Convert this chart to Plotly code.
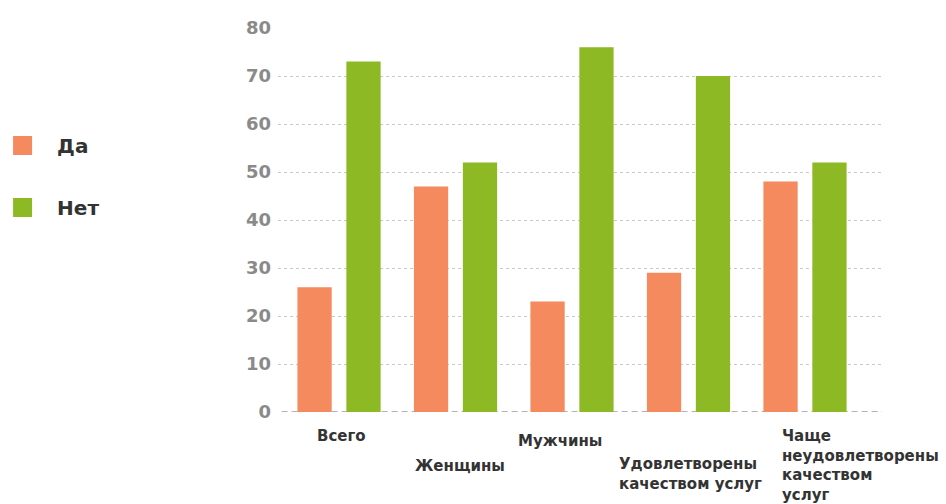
import plotly.graph_objects as go

categories = ["Всего", "Женщины", "Мужчины", "Удовлетворены качеством услуг",
              "Чаще неудовлетворены качеством услуг"]
da_values = [26, 47, 23, 29, 48]
net_values = [73, 52, 76, 70, 52]
series_names = ["Да", "Нет"]
tick_vals = [0, 10, 20, 30, 40, 50, 60, 70, 80]

# label text (as printed under the axis) and placement styling
label_texts = ["Всего", "Женщины", "Мужчины", "Удовлетворены<br>качеством услуг",
               "Чаще<br>неудовлетворены<br>качеством<br>услуг"]
label_yshift = [-25, -55, -30, -53, -25]
label_xshift = [2, 4, -12, 2, -25]
label_xanchor = ["center", "center", "center", "center", "left"]
label_align = ["center", "center", "center", "left", "left"]

ORANGE = "#F48A5E"
GREEN = "#8DB924"

fig = go.Figure()
fig.add_trace(go.Bar(x=categories, y=da_values, name=series_names[0],
                     marker=dict(color=ORANGE, line=dict(width=0)), showlegend=False))
fig.add_trace(go.Bar(x=categories, y=net_values, name=series_names[1],
                     marker=dict(color=GREEN, line=dict(width=0)), showlegend=False))
# legend entries (larger square swatches)
for nm, col in zip(series_names, [ORANGE, GREEN]):
    fig.add_trace(go.Scatter(x=[None], y=[None], mode="markers", name=nm,
                             legendgroup=nm,
                             marker=dict(symbol="square", size=16, color=col,
                                         line=dict(color=col, width=3))))

for i, cat in enumerate(categories):
    fig.add_annotation(x=cat, y=0, xref="x", yref="y", text=label_texts[i],
                       showarrow=False, yanchor="top", xanchor=label_xanchor[i],
                       align=label_align[i], yshift=label_yshift[i] + 12,
                       xshift=label_xshift[i],
                       font=dict(family="DejaVu Sans", size=15, color="#333333",
                                 weight="bold"))

# dashed baseline at zero
fig.add_shape(type="line", xref="paper", yref="y", x0=0.006, x1=1, y0=0, y1=0,
              line=dict(color="#9a9a9a", width=1.5, dash="6px,4px"), layer="below")

fig.update_layout(
    width=946, height=504,
    margin=dict(l=278, r=64, t=28, b=92, autoexpand=False),
    paper_bgcolor="white", plot_bgcolor="white",
    barmode="group", bargap=0.16, bargroupgap=0.3,
    font=dict(family="DejaVu Sans", color="#333333"),
    legend=dict(x=-0.480, xanchor="left", y=0.745, yanchor="top",
                font=dict(family="DejaVu Sans", size=20, color="#333333",
                          weight="bold"),
                tracegroupgap=33, itemwidth=59, bgcolor="rgba(0,0,0,0)"),
    xaxis=dict(range=[-0.524, 4.661], showticklabels=False, showgrid=False,
               showline=False, zeroline=False, ticks=""),
    yaxis=dict(range=[0, 80], tickvals=tick_vals, showgrid=True,
               gridcolor="#c8c8c8", griddash="3px,3px", gridwidth=1,
               zeroline=False, showline=False, ticks="", ticklabelstandoff=6,
               tickfont=dict(family="DejaVu Sans", size=18, color="#8a8a8a",
                             weight="bold")),
)

fig.write_html("out.html")
